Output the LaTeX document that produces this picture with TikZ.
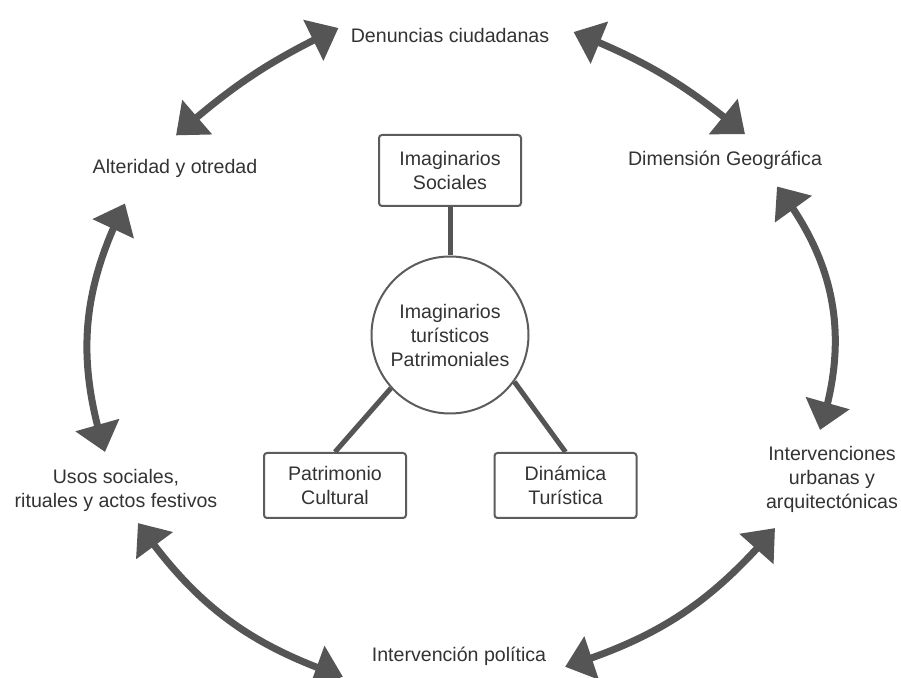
\documentclass[tikz,border=0pt]{standalone}
\usepackage{fontspec}
\setmainfont{Liberation Sans}
\usepackage{xcolor}
\usepackage{tikz}
\usetikzlibrary{calc,arrows.meta,bending}

\definecolor{arrowgray}{HTML}{555555}
\definecolor{boxgray}{HTML}{5C5C5C}
\definecolor{textgray}{HTML}{333333}

\begin{document}
\begin{tikzpicture}[x=0.5pt, y=0.5pt, align=center, text=textgray,
    font=\fontsize{9.8}{12}\selectfont,
    topic/.style={inner sep=3pt},
    concept/.style={draw=boxgray, line width=1pt, rounded corners=1.5pt, minimum width=71pt, inner sep=2pt},
    link/.style={draw=arrowgray, line width=2.5pt},
    cyclearrow/.style={draw=arrowgray, line width=3.5pt, {Triangle[length=14pt,width=22pt]}-{Triangle[length=14pt,width=22pt]}}]
    \useasboundingbox (0,0) rectangle (901,-678);

    \node [topic, anchor=base] (denuncias) at (450,-43) {Denuncias ciudadanas};
    \node [topic, anchor=base] (alteridad) at (175,-174) {Alteridad y otredad};
    \node [topic, anchor=base] (dimension) at (725,-166) {Dimensión Geográfica};
    \node [topic, anchor=north] (usos) at (116,-463) {Usos sociales,\\rituales y actos festivos};
    \node [topic, anchor=north] (urbanas) at (832,-440) {Intervenciones\\urbanas y\\arquitectónicas};
    \node [topic, anchor=base] (politica) at (459,-662) {Intervención política};

    \node [concept, minimum height=35.5pt] (sociales) at (450,-170.5) {Imaginarios\\Sociales};
    \node [draw=boxgray, line width=1pt, circle, minimum size=78.5pt, inner sep=0pt] (central) at (450,-335) {Imaginarios\\turísticos\\Patrimoniales};
    \node [concept, minimum height=32.5pt] (patrimonio) at (335,-485.5) {Patrimonio\\Cultural};
    \node [concept, minimum height=32.5pt] (dinamica) at (565.5,-485.5) {Dinámica\\Turística};

    \draw [link] (sociales) -- (central);
    \draw [link] (central.222) -- (patrimonio.north);
    \draw [link] (central.-36) -- (dinamica.north);

    % outer cycle
    \draw [cyclearrow] ($(alteridad.north)+(1,18)$) to[bend left=8] ($(denuncias.west)+(-6,8)$);
    \draw [cyclearrow] ($(denuncias.east)+(18,4)$) to[bend left=9] ($(dimension.north)+(20,11)$);
    \draw [cyclearrow] ($(dimension.south)+(52,-10)$) to[bend left=28] ($(urbanas.north)+(-12,10)$);
    \draw [cyclearrow] ($(urbanas.south)+(-57,-9)$) to[bend left=16] ($(politica.east)+(12.5,-10)$);
    \draw [cyclearrow] ($(politica.west)+(-22.5,-20)$) to[bend left=18] ($(usos.south)+(22,-5)$);
    \draw [cyclearrow] ($(usos.north)+(-11,11)$) to[bend left=22] ($(alteridad.south)+(-50,-19)$);

\end{tikzpicture}
\end{document}
